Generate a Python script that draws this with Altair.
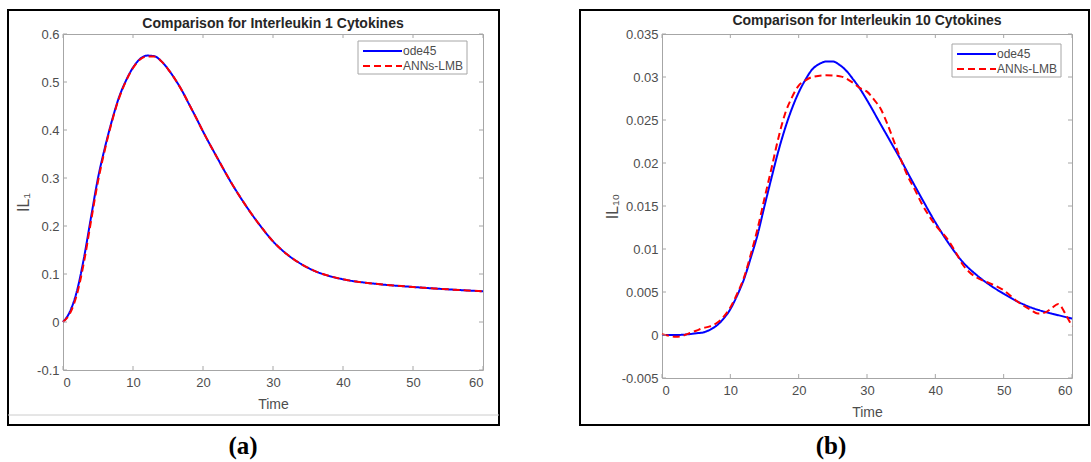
import altair as alt
import pandas as pd

# ---------------- data ----------------
series_names = ["ode45", "ANNs-LMB"]
series_colors = ["#0000ff", "#ff0000"]

time_il1 = [0, 1, 2, 3, 4, 5, 6, 7, 8, 9, 10, 11, 12, 13, 14, 15, 16, 17, 18, 19, 20,
            22, 24, 26, 28, 30, 32, 34, 36, 38, 40, 45, 50, 55, 60]
il1_ode45 = [0.0, 0.022, 0.065, 0.134, 0.218, 0.300, 0.364, 0.420, 0.468, 0.503, 0.530,
             0.548, 0.555, 0.554, 0.544, 0.527, 0.506, 0.482, 0.454, 0.426, 0.397,
             0.343, 0.291, 0.245, 0.204, 0.168, 0.141, 0.121, 0.106, 0.096, 0.089,
             0.079, 0.073, 0.068, 0.064]
il1_ann = [0.0, 0.018, 0.058, 0.125, 0.210, 0.293, 0.360, 0.418, 0.466, 0.502, 0.529,
           0.547, 0.553, 0.553, 0.544, 0.527, 0.506, 0.482, 0.454, 0.426, 0.397,
           0.343, 0.291, 0.245, 0.204, 0.168, 0.141, 0.121, 0.106, 0.096, 0.089,
           0.079, 0.073, 0.068, 0.064]

time_il10_ode = [0, 2, 4, 5, 6, 7, 8, 9, 10, 11, 12, 13, 14, 15, 16, 17, 18, 19, 20, 21,
                 22, 23, 24, 25, 26, 27, 28, 29, 30, 32, 34, 35, 36, 38, 40, 42, 44, 46,
                 48, 50, 52, 54, 56, 58, 60]
il10_ode45 = [0.0, 0.0, 0.0001, 0.0002, 0.0003, 0.0006, 0.0011, 0.0019, 0.0030, 0.0046,
              0.0065, 0.0090, 0.0117, 0.0150, 0.0182, 0.0213, 0.0240, 0.0263, 0.0282,
              0.0297, 0.0309, 0.0315, 0.0318, 0.0318, 0.0314, 0.0307, 0.0297, 0.0286,
              0.0273, 0.0245, 0.0217, 0.0203, 0.0188, 0.0159, 0.0131, 0.0106, 0.0085,
              0.0070, 0.0058, 0.0048, 0.0039, 0.0032, 0.0027, 0.0023, 0.0019]
time_il10_ann = [0, 1, 2, 3, 4, 5, 6, 7, 8, 9, 10, 11, 12, 13, 14, 15, 16, 17, 18, 19, 20,
                 21, 22, 24, 26, 28, 29, 30, 31, 32, 33, 34, 35, 36, 37, 38, 40, 42, 43,
                 44, 45, 46, 48, 50, 52, 54, 55, 56, 57, 58, 59, 60]
il10_ann = [0.0001, -0.0001, -0.0002, -0.0001, 0.0002, 0.0005, 0.0008, 0.0010, 0.0014,
            0.0021, 0.0032, 0.0048, 0.0067, 0.0094, 0.0124, 0.0159, 0.0193, 0.0228,
            0.0257, 0.0276, 0.0290, 0.0296, 0.0300, 0.0302, 0.0301, 0.0293, 0.0287,
            0.0283, 0.0274, 0.0263, 0.0245, 0.0224, 0.0203, 0.0184, 0.0169, 0.0153,
            0.0128, 0.0109, 0.0096, 0.0082, 0.0073, 0.0067, 0.0060, 0.0052, 0.0039,
            0.0029, 0.0025, 0.0026, 0.0031, 0.0036, 0.0025, 0.0010]

x_ticks = [0, 10, 20, 30, 40, 50, 60]
y_ticks_il1 = [-0.1, 0, 0.1, 0.2, 0.3, 0.4, 0.5, 0.6]
y_ticks_il10 = [-0.005, 0, 0.005, 0.01, 0.015, 0.02, 0.025, 0.03, 0.035]

titles = ["Comparison for Interleukin 1 Cytokines", "Comparison for Interleukin 10 Cytokines"]
y_titles = ["IL\u2081", "IL\u2081\u2080"]
panel_labels = ["(a)", "(b)"]

# ---------------- styling ----------------
FONT = "Liberation Sans"
AX_GRAY = "#a6a6a6"
TXT_GRAY = "#4d4d4d"
one = pd.DataFrame({"k": [0]})


def panel(time_a, vals_a, time_b, vals_b, yticks, w, h, title, ytitle, ytitle_x,
          title_y, frame, label, label_x, legend_x, legend_y, gray_line):
    df = pd.concat([
        pd.DataFrame({"t": time_a, "v": vals_a, "s": series_names[0]}),
        pd.DataFrame({"t": time_b, "v": vals_b, "s": series_names[1]}),
    ])
    xs = alt.Scale(domain=[x_ticks[0], x_ticks[-1]], nice=False, zero=False)
    ys = alt.Scale(domain=[yticks[0], yticks[-1]], nice=False, zero=False)
    cs = alt.Scale(domain=series_names, range=series_colors)
    ds = alt.Scale(domain=series_names, range=[[1, 0], [7, 4]])

    xaxis = alt.Axis(values=x_ticks, title="Time", titleY=34, titleBaseline="middle",
                     labelPadding=6, labelExpr="'' + datum.value")
    yaxis = alt.Axis(values=yticks, title=ytitle, titleX=ytitle_x, titleY=h / 2,
                     titleAngle=270, titleAlign="center", titleBaseline="middle",
                     titleFontSize=16, labelPadding=4, labelExpr="'' + datum.value")
    X = alt.X("t:Q", scale=xs, axis=xaxis)
    Y = alt.Y("v:Q", scale=ys, axis=yaxis)

    layers = []
    for name in series_names:
        layers.append(
            alt.Chart(df).transform_filter(alt.datum.s == name)
            .mark_line(strokeWidth=2, interpolate="monotone")
            .encode(
                x=X, y=Y,
                color=alt.Color("s:N", scale=cs, legend=None),
                strokeDash=alt.StrokeDash("s:N", scale=ds, legend=None),
            )
        )

    xt = pd.DataFrame({"t": x_ticks})
    yt = pd.DataFrame({"v": yticks})
    tk = dict(color=AX_GRAY, strokeWidth=1)
    layers += [
        alt.Chart(xt).mark_rule(**tk).encode(x=X, y=alt.value(h), y2=alt.value(h - 4)),
        alt.Chart(xt).mark_rule(**tk).encode(x=X, y=alt.value(0), y2=alt.value(4)),
        alt.Chart(yt).mark_rule(**tk).encode(y=Y, x=alt.value(0), x2=alt.value(4)),
        alt.Chart(yt).mark_rule(**tk).encode(y=Y, x=alt.value(w), x2=alt.value(w - 4)),
    ]

    # outer black frame
    layers.append(
        alt.Chart(one).mark_rect(fill=None, stroke="black", strokeWidth=2)
        .encode(x=alt.value(frame[0]), x2=alt.value(frame[1]),
                y=alt.value(frame[2]), y2=alt.value(frame[3]))
    )
    if gray_line is not None:
        layers.append(
            alt.Chart(one).mark_rule(color="#cccccc", strokeWidth=1)
            .encode(x=alt.value(frame[0]), x2=alt.value(frame[1]),
                    y=alt.value(gray_line))
        )
    # title
    layers.append(
        alt.Chart(one).mark_text(text=title, font=FONT, fontSize=14, fontWeight="bold",
                                 color="#262626", align="center", baseline="middle")
        .encode(x=alt.value(w / 2), y=alt.value(title_y))
    )
    # legend box
    lx, ly = legend_x, legend_y
    layers += [
        alt.Chart(one).mark_rect(fill="white", stroke="#a6a6a6", strokeWidth=1)
        .encode(x=alt.value(lx), x2=alt.value(lx + 109),
                y=alt.value(ly), y2=alt.value(ly + 33)),
        alt.Chart(one).mark_rule(color=series_colors[0], strokeWidth=2)
        .encode(x=alt.value(lx + 5), x2=alt.value(lx + 44), y=alt.value(ly + 10)),
        alt.Chart(one).mark_rule(color=series_colors[1], strokeWidth=2, strokeDash=[7, 4])
        .encode(x=alt.value(lx + 5), x2=alt.value(lx + 44), y=alt.value(ly + 25)),
        alt.Chart(one).mark_text(text=series_names[0], font=FONT, fontSize=12,
                                 color=TXT_GRAY, align="left", baseline="middle")
        .encode(x=alt.value(lx + 45), y=alt.value(ly + 10)),
        alt.Chart(one).mark_text(text=series_names[1], font=FONT, fontSize=12,
                                 color=TXT_GRAY, align="left", baseline="middle")
        .encode(x=alt.value(lx + 45), y=alt.value(ly + 25)),
    ]
    # panel label
    layers.append(
        alt.Chart(one).mark_text(text=label, font="Liberation Serif", fontSize=25,
                                 fontWeight="bold", color="black", align="center",
                                 baseline="middle")
        .encode(x=alt.value(label_x), y=alt.value(412))
    )
    return alt.layer(*layers).properties(width=w, height=h)


left = panel(time_il1, il1_ode45, time_il1, il1_ann, y_ticks_il1, 420, 336,
             titles[0], y_titles[0], -40, -10, (-55, 436, -24, 391), panel_labels[0],
             180, 295, 7, 381)
right = panel(time_il10_ode, il10_ode45, time_il10_ann, il10_ann, y_ticks_il10, 410, 344,
              titles[1], y_titles[1], -50, -13, (-82, 427, -24, 391), panel_labels[1],
              169, 290, 10, None)

chart = (
    alt.hconcat(left, right, spacing=77)
    .properties(padding={"left": 6, "top": 8, "right": 0, "bottom": 0},
                background="white")
    .configure_view(stroke=AX_GRAY, strokeWidth=1)
    .configure_axis(labelFont=FONT, labelFontSize=13, labelColor=TXT_GRAY,
                    titleFont=FONT, titleFontSize=14, titleColor=TXT_GRAY,
                    titleFontWeight="normal", domain=False, ticks=False, grid=False)
)

chart.save("out.html", embed_options={"renderer": "svg", "actions": False})
